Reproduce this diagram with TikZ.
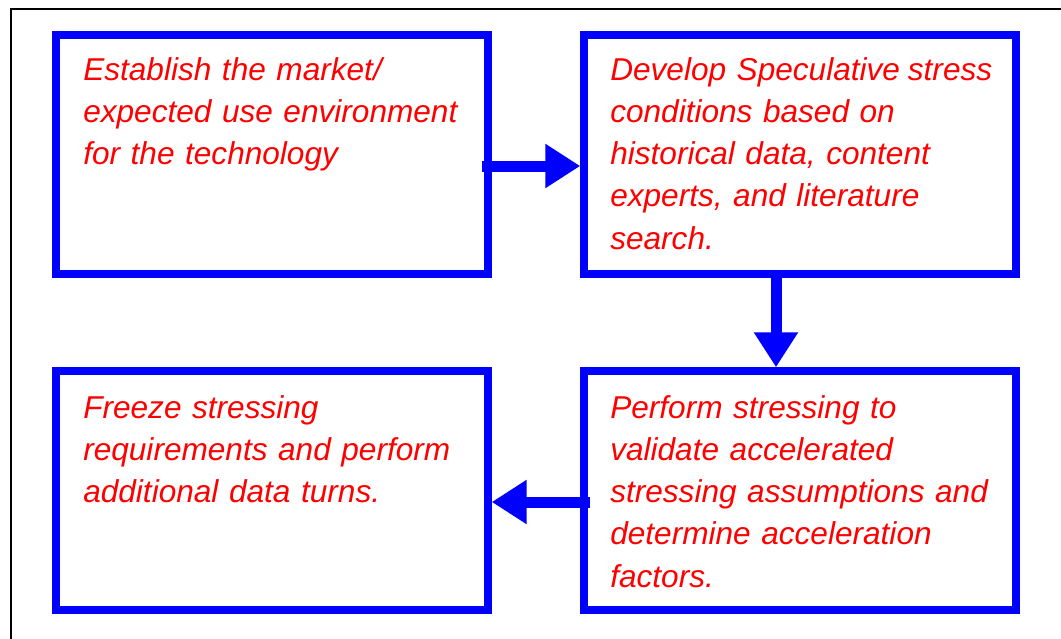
\documentclass[tikz,border=0pt]{standalone}
\usepackage{fontspec}
\setmainfont{Liberation Sans}
\usetikzlibrary{arrows.meta}

\tikzset{
  stepbox/.style={shape=rectangle, draw=blue, line width=5.6pt,
    minimum width=324pt, minimum height=179.25pt, inner sep=0pt},
  steptext/.style={anchor=base west, inner sep=0pt, text=red, align=left,
    text width=300pt, font=\fontsize{23.7}{31.7}\selectfont\itshape},
  flowarrow/.style={draw=blue, line width=8.25pt,
    -{Triangle[length=26.25pt, width=31.5pt]}, blue}
}

\begin{document}
\begin{tikzpicture}[x=0.75pt, y=-0.75pt]
  \useasboundingbox (0,0) rectangle (1061,639);
  \draw [line width=1.5pt] (1061,9) -- (11,9) -- (11,639);

  \node [stepbox] (establish) at (272,154.5) {};
  \node [stepbox] (develop) at (800,154.5) {};
  \node [stepbox] (freeze) at (272,490.5) {};
  \node [stepbox] (perform) at (800,490.5) {};

  \node [steptext] (establishtext) at (83,80) {Establish the market/\\expected use environment\\for the technology};
  \node [steptext] (developtext) at (610,80) {Develop Speculative\hspace{-2pt} stress\\conditions based on\\historical data, content\\experts, and literature\\search.};
  \node [steptext] (freezetext) at (83,418) {Freeze stressing\\requirements and perform\\additional data turns.};
  \node [steptext] (performtext) at (610,418) {Perform stressing to\\validate accelerated\\stressing assumptions and\\determine acceleration\\factors.};

  \draw [flowarrow] ([shift={(-10,11.5)}]establish.east) -- ([shift={(0,11.5)}]develop.west);
  \draw [flowarrow] ([shift={(-24,-8)}]develop.south) -- ([shift={(-24,0)}]perform.north);
  \draw [flowarrow] ([shift={(10,11.5)}]perform.west) -- ([shift={(0,11.5)}]freeze.east);
\end{tikzpicture}
\end{document}
